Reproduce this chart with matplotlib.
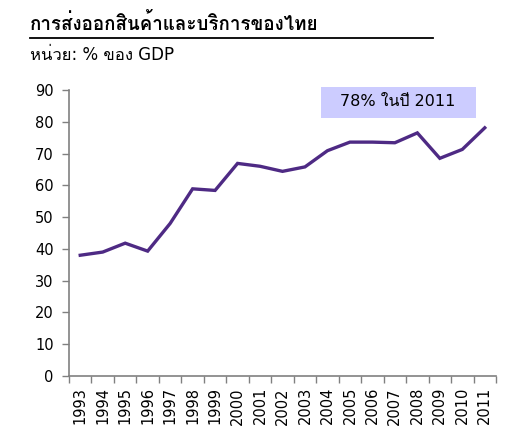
import matplotlib
matplotlib.use("Agg")
import matplotlib.pyplot as plt
from matplotlib import font_manager
from matplotlib.ft2font import FT2Font

years = [str(y) for y in range(1993, 2012)]
export_pct_gdp = [38.0, 39.0, 41.8, 39.3, 48.0, 58.9, 58.4, 66.9, 66.0, 64.4,
                  65.8, 70.9, 73.6, 73.6, 73.4, 76.5, 68.5, 71.3, 78.1]
yticks = list(range(0, 100, 10))
title = "การส่งออกสินค้าและบริการของไทย"
unit = "หน่วย: % ของ GDP"
note = "78% ในปี 2011"

# หา font ที่มีอักษรไทย
thai_fonts = []
for f in font_manager.fontManager.ttflist:
    try:
        if 0x0E01 in FT2Font(f.fname).get_charmap() and f.name not in thai_fonts:
            thai_fonts.append(f.name)
    except Exception:
        pass
families = ["DejaVu Sans"] + thai_fonts
plt.rcParams["font.family"] = families

W, H = 509, 447
fig = plt.figure(figsize=(W / 100, H / 100), dpi=100)
ax = fig.add_axes([69 / W, 1 - 376 / H, (496 - 69) / W, (376 - 90) / H])

x = list(range(len(years)))
ax.plot(x, export_pct_gdp, color="#4E2A84", lw=2.4, solid_joinstyle="miter")

ax.set_ylim(0, 90)
ax.set_xlim(-0.5, len(years) - 0.5)
ax.set_yticks(yticks)
ax.set_yticklabels([str(v) for v in yticks], fontsize=10.5)
ax.set_xticks(x)
ax.set_xticklabels(years, rotation=90, fontsize=10.5)
ax.set_xticks([i - 0.5 for i in range(len(years) + 1)], minor=True)
ax.tick_params(axis="x", which="major", length=0, pad=8)
ax.tick_params(axis="x", which="minor", length=5, color="#808080", width=1)
ax.tick_params(axis="y", length=5, color="#808080", width=1, pad=6)
for s in ("top", "right"):
    ax.spines[s].set_visible(False)
for s in ("left", "bottom"):
    ax.spines[s].set_color("#808080")
    ax.spines[s].set_linewidth(1.2)

fig.text(30 / W, 1 - 23 / H, title, fontsize=13.5, fontweight="bold",
         va="center", ha="left")
fig.add_artist(plt.Line2D([30 / W, 433 / W], [1 - 38 / H, 1 - 38 / H],
                          color="black", lw=1.3))
fig.text(30 / W, 1 - 55 / H, unit, fontsize=12, va="center", ha="left")

fig.patches.append(plt.Rectangle((321 / W, 1 - 118 / H), 155 / W, 31 / H,
                                 transform=fig.transFigure,
                                 facecolor="#CCCCFF", edgecolor="none"))
fig.text(398 / W, 1 - 102 / H, note, fontsize=11.5, ha="center", va="center")

fig.savefig("out.png", dpi=100)
